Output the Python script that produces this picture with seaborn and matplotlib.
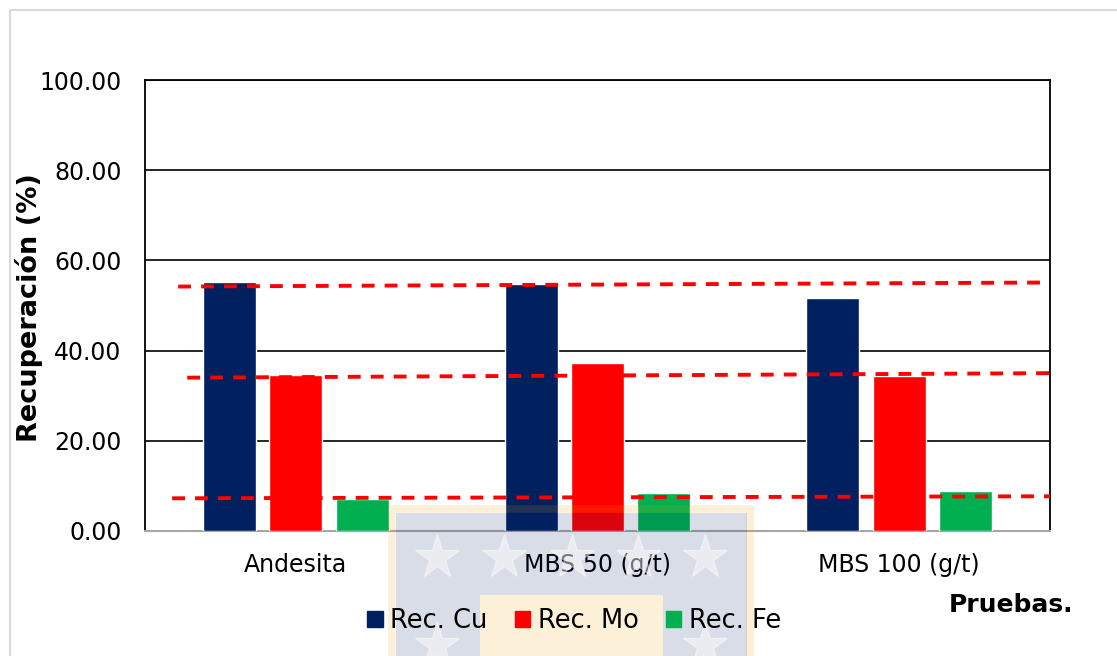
import pandas as pd
import matplotlib.pyplot as plt
import seaborn as sns
from matplotlib.patches import Patch, Rectangle
from matplotlib.lines import Line2D

# Data
pruebas = ["Andesita", "MBS 50 (g/t)", "MBS 100 (g/t)"]
series = ["Rec. Cu", "Rec. Mo", "Rec. Fe"]
rec_cu = [55.1, 54.7, 51.7]
rec_mo = [34.6, 37.3, 34.4]
rec_fe = [7.0, 8.4, 8.9]
colors = ["#002060", "#ff0000", "#00b050"]

# dashed trend lines (x in category units, y in %)
trend_x = [[-0.39, 2.5], [-0.36, 2.51], [-0.41, 2.5]]
trend_y = [[54.2, 55.1], [34.0, 35.0], [7.25, 7.7]]

df = pd.DataFrame({
    "Prueba": pruebas * 3,
    "Serie": [s for s in series for _ in pruebas],
    "Rec": rec_cu + rec_mo + rec_fe,
})

sns.set_style("white")
plt.rcParams["font.family"] = ["DejaVu Sans"]
plt.rcParams["text.color"] = "black"

W, H = 1117, 656
fig = plt.figure(figsize=(W / 100, H / 100), dpi=100)
ax = fig.add_axes([145 / W, 1 - 531 / H, 905 / W, 451 / H])

sns.barplot(
    data=df, x="Prueba", y="Rec", hue="Serie",
    palette=colors, width=0.66, gap=0.2, ax=ax,
    saturation=1, legend=False, zorder=3
)

for xs, ys in zip(trend_x, trend_y):
    ax.plot(xs, ys, color="#ff0000", lw=2.8, dashes=(3.3, 2.6),
            zorder=4, clip_on=False)

ax.set_xlim(-0.5, 2.5)
ax.set_ylim(0, 100)
ax.set_yticks([0, 20, 40, 60, 80, 100])
ax.set_yticklabels([f"{v:.2f}" for v in [0, 20, 40, 60, 80, 100]])
ax.yaxis.grid(True, color="black", lw=1.2, zorder=0)
ax.set_axisbelow(True)
for s in ["top", "right", "left"]:
    ax.spines[s].set_color("black")
    ax.spines[s].set_linewidth(1.3)
ax.spines["bottom"].set_color("#a6a6a6")
ax.spines["bottom"].set_linewidth(1.5)
ax.tick_params(axis="both", length=0, labelsize=17, colors="black")
ax.tick_params(axis="y", pad=17)
ax.tick_params(axis="x", pad=16)
ax.set_xlabel("")
ax.set_ylabel("Recuperación (%)", fontsize=19.5, fontweight="bold", color="black")
ax.yaxis.set_label_coords((43 - 145) / 905, 0.496)

fig.text(1011 / W, 1 - 605 / H, "Pruebas.", fontsize=18, fontweight="bold",
         ha="center", va="center", color="black")

handles = [Patch(facecolor=c, edgecolor=c) for c in colors]
fig.legend(handles, series, loc="center", bbox_to_anchor=(574 / W, 1 - 621 / H),
           ncol=3, frameon=False, fontsize=18.5, handlelength=0.6,
           handleheight=0.6, handletextpad=0.3, columnspacing=1.05,
           labelcolor="black")


# faint watermark over the lower centre
def box(x0, y0, x1, y1, **kw):
    fig.add_artist(Rectangle((x0 / W, 1 - y1 / H), (x1 - x0) / W, (y1 - y0) / H,
                             transform=fig.transFigure, **kw))


box(392, 509, 750, 660, facecolor="none", edgecolor="#f29b00", lw=5.5, alpha=0.15)
box(396, 513, 480, 656, facecolor="#002060", lw=0, alpha=0.15)
box(663, 513, 747, 656, facecolor="#002060", lw=0, alpha=0.15)
box(480, 513, 663, 595, facecolor="#002060", lw=0, alpha=0.15)
box(480, 595, 663, 656, facecolor="#f29b00", lw=0, alpha=0.15)
for sx, sy in [(437, 557), (504, 557), (572, 557), (638, 557), (705, 557),
               (437, 645), (705, 645)]:
    fig.add_artist(Line2D([sx / W], [1 - sy / H], marker="*", markersize=33,
                          color="white", alpha=0.45, lw=0,
                          transform=fig.transFigure))

# chart-area border
fig.add_artist(Line2D([10 / W, 1], [1 - 10 / H, 1 - 10 / H], color="#d9d9d9",
                      lw=1.5, transform=fig.transFigure))
fig.add_artist(Line2D([10 / W, 10 / W], [0, 1 - 10 / H], color="#d9d9d9",
                      lw=1.5, transform=fig.transFigure))

fig.savefig("out.png", dpi=100)
